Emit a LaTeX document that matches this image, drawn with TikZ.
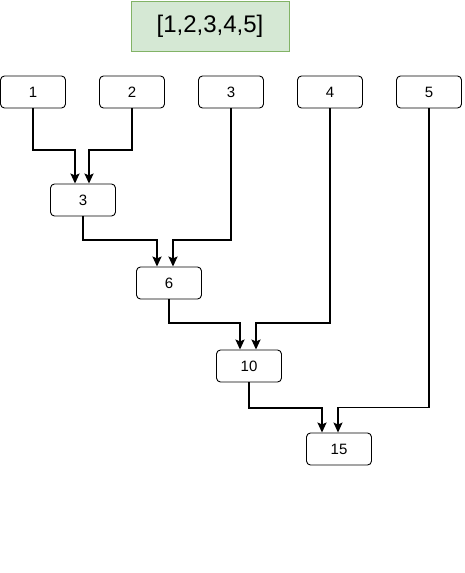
\documentclass[tikz,border=0pt]{standalone}
\usepackage{fontspec}
\setmainfont{Liberation Sans}
\usetikzlibrary{arrows.meta}
\definecolor{boxgreen}{HTML}{D5E8D4}
\definecolor{linegreen}{HTML}{82B366}
\begin{document}
\begin{tikzpicture}[x=1pt, y=-1pt,
    every node/.style={rectangle, rounded corners=4pt, draw, line width=0.9pt,
        minimum width=65pt, minimum height=32pt, inner sep=0pt, font=\fontsize{15}{17}\selectfont},
    link/.style={line width=2pt, -{Stealth[length=10pt, width=9pt, inset=2pt]}}]
    \useasboundingbox (0,0) rectangle (464,573);

    \node[rounded corners=0pt, fill=boxgreen, draw=linegreen, minimum width=158pt,
        minimum height=50pt, font=\fontsize{24}{28}\selectfont] (list) at (210,26) {[1,2,3,4,5]};

    \node (n1) at (33,92) {1};
    \node (n2) at (132,92) {2};
    \node (n3) at (231,92) {3};
    \node (n4) at (330,92) {4};
    \node (n5) at (429,92) {5};

    \node (s3) at (83,200) {3};
    \node (s6) at (169,283) {6};
    \node (s10) at (249,366) {10};
    \node (s15) at (339,449) {15};

    \draw[link] (n1.south) -- ++(0,42) -| ([xshift=-8pt]s3.north);
    \draw[link] (n2.south) -- ++(0,42) -| ([xshift=6pt]s3.north);
    \draw[link] (s3.south) -- ++(0,24) -| ([xshift=-12pt]s6.north);
    \draw[link] (n3.south) -- ++(0,132) -| ([xshift=4pt]s6.north);
    \draw[link] (s6.south) -- ++(0,24) -| ([xshift=-9pt]s10.north);
    \draw[link] (n4.south) -- ++(0,215) -| ([xshift=7pt]s10.north);
    \draw[link] (s10.south) -- ++(0,26) -| ([xshift=-17pt]s15.north);
    \draw[link, line width=1.2pt] (n5.south) -- ++(0,299) -| ([xshift=-1pt]s15.north);
\end{tikzpicture}
\end{document}
